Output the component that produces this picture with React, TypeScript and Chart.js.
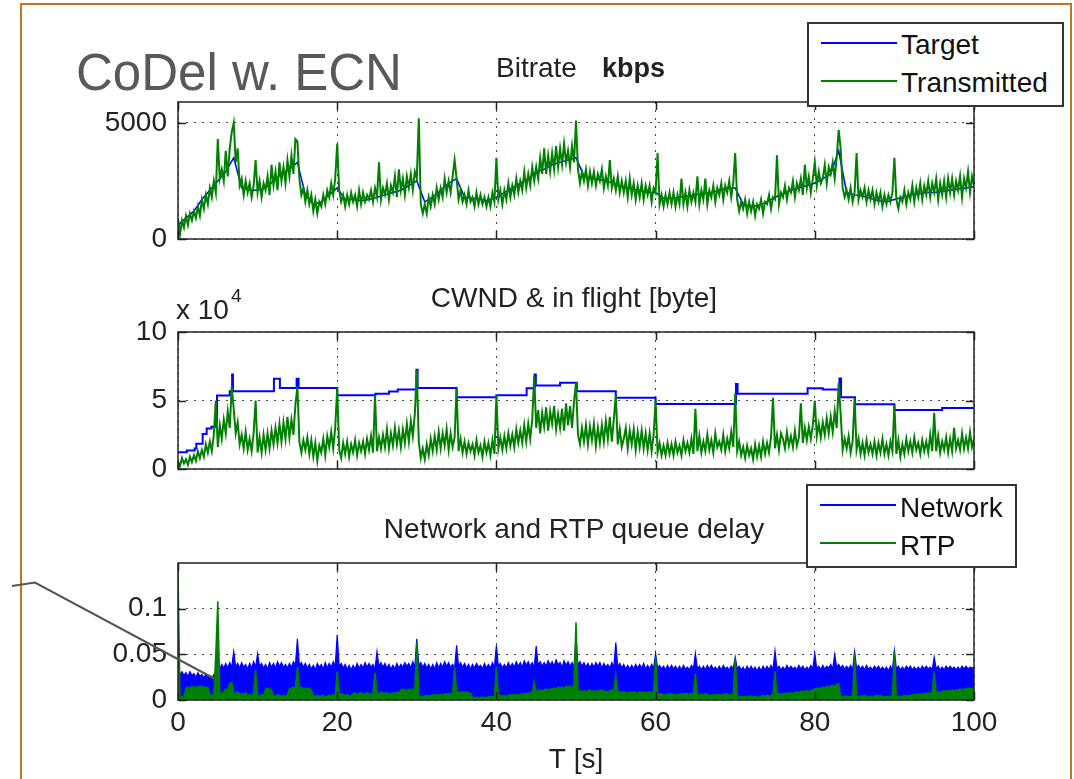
import React, { useEffect, useRef } from "react";
import { Chart, registerables } from "chart.js";
Chart.register(...registerables);

const FONT = "'Liberation Sans', Arial, Helvetica, sans-serif";
const STEP = 0.25; // sampling interval of the noisy traces [s]

const xTicks = [0, 20, 40, 60, 80, 100];
const bitrateTicks = [0, 5000];
const cwndTicks = [0, 5, 10];
const delayTicks = [0, 0.05, 0.1];

// Bitrate plot, kbps, target sampled every 1 s
const targetKbps = [
  600, 900, 1200, 1700, 2100, 2500, 2900, 3500, 2200, 2100,
  2100, 2200, 2500, 2800, 3000, 3300, 1900, 1500, 1600, 1900,
  2200, 1700, 1700, 1650, 1700, 1800, 1900, 2000, 2100, 2300,
  2500, 1600, 1800, 2100, 2400, 2600, 1800, 1750, 1700, 1650,
  1800, 2000, 2200, 2400, 2600, 2900, 3000, 3200, 3300, 3400,
  3500, 2700, 2600, 2550, 2500, 2300, 2250, 2150, 2100, 2000,
  2000, 1750, 1750, 1800, 1850, 1900, 1950, 2000, 2100, 2200,
  2200, 1500, 1400, 1450, 1600, 1800, 1950, 2100, 2200, 2300,
  2400, 2600, 2800, 3800, 2000, 1900, 1850, 1750, 1650, 1600,
  1700, 1800, 1900, 1950, 2000, 2000, 2050, 2100, 2150, 2200,
  2250,
];

// Transmitted, kbps, every 0.25 s
const transmittedKbps = [
  900, 200, 800, 500, 1000, 600, 1100, 800,
  1200, 900, 1400, 1000, 1700, 1300, 1900, 1500,
  2200, 1800, 2500, 2000, 4300, 2600, 3000, 2500,
  3800, 2700, 3900, 4600, 5000, 3300, 3900, 2300,
  2600, 1900, 2500, 2000, 2400, 1800, 2300, 3400,
  2000, 2500, 1800, 2400, 2100, 2700, 1900, 3200,
  2300, 2900, 2100, 3300, 2500, 3100, 2400, 3400,
  2700, 3600, 2800, 4300, 4200, 2600, 1900, 2200,
  1600, 2100, 1500, 1900, 1200, 1700, 1100, 1600,
  1400, 1900, 1500, 2100, 1800, 2400, 1900, 2600,
  4100, 2100, 1600, 1900, 1400, 1900, 1500, 2000,
  1600, 1900, 1400, 2100, 1500, 2000, 1600, 1900,
  1700, 2100, 1600, 2200, 1800, 3300, 1700, 2200,
  1900, 2400, 1700, 2300, 2000, 2700, 1800, 3000,
  2100, 2600, 1900, 2700, 2200, 2800, 2100, 2900,
  2600, 5200, 1500, 1100, 1500, 1100, 1800, 1400,
  1900, 1500, 2200, 1700, 2200, 1800, 2600, 2000,
  2500, 2000, 2700, 3400, 2600, 1700, 2100, 1600,
  1900, 1500, 2100, 1600, 1800, 1400, 2000, 1500,
  1900, 1500, 1800, 1400, 1800, 1400, 2000, 1600,
  3500, 1700, 2100, 1500, 2100, 1700, 2400, 1800,
  2300, 1900, 2600, 2000, 2500, 2100, 2900, 2200,
  2800, 2300, 3100, 2500, 3100, 2600, 3500, 2800,
  3900, 2800, 3600, 2900, 3700, 3000, 4000, 3100,
  3900, 3200, 4100, 3300, 3800, 3100, 4000, 3300,
  5100, 3000, 2400, 2900, 2500, 3000, 2300, 2900,
  2400, 2900, 2300, 2800, 2500, 3000, 2200, 2700,
  2300, 3400, 2200, 2600, 2100, 2700, 2000, 2500,
  2000, 2500, 1800, 2600, 1900, 2400, 1700, 2300,
  1800, 2400, 1700, 2300, 1900, 2300, 1600, 2200,
  2000, 3700, 1500, 1900, 1400, 1900, 1500, 2000,
  1500, 2000, 1400, 1900, 1500, 2600, 1500, 2000,
  1400, 2100, 1600, 2000, 1600, 2700, 1500, 2100,
  1700, 2600, 1500, 2100, 1800, 2300, 1600, 2200,
  1900, 2400, 1700, 2300, 2000, 2500, 1800, 2400,
  3700, 1700, 1200, 1600, 1300, 1700, 1100, 1600,
  1200, 1600, 1000, 1500, 1300, 1700, 1100, 1600,
  1500, 1900, 1300, 1800, 1700, 3600, 1500, 2000,
  1800, 2300, 1700, 2200, 2000, 2500, 1800, 2400,
  2100, 2600, 1900, 3200, 2200, 2700, 2000, 2600,
  3300, 2300, 2900, 2400, 2600, 3200, 2400, 3100,
  2800, 3300, 2600, 3500, 4700, 3900, 2200, 1800,
  2100, 1700, 2200, 1600, 2000, 3700, 1700, 2100,
  1800, 2200, 1600, 2100, 1700, 2100, 1500, 2000,
  1600, 2000, 1400, 1900, 1500, 1900, 1600, 2000,
  3500, 1700, 1300, 1800, 1600, 2100, 1500, 2000,
  1700, 2300, 1600, 2200, 1800, 2400, 1700, 2300,
  1900, 2500, 1800, 2400, 2000, 2600, 1700, 2400,
  1900, 2500, 1800, 2600, 2000, 2600, 1900, 2500,
  2100, 2700, 1800, 2600, 2200, 2900, 2000, 2700,
  2300,
];

// CWND, x 10^4 byte, step changes (time [s], value)
const cwndT = [
  0, 1.1, 2.1, 2.3, 3.1, 3.6, 4.2, 4.65, 4.9, 6.5,
  6.8, 6.9, 12.05, 12.8, 14.9, 15.15, 20, 24.8, 26.5, 27.6,
  29.95, 30.1, 35, 40, 43.8, 44.8, 44.95, 48, 50.1, 55,
  60, 70.1, 70.3, 79.1, 81, 83.1, 83.3, 85.05, 90, 96,
  100,
];
const cwndV = [
  1.22, 1.35, 1.5, 1.84, 2.56, 2.95, 3.08, 3.39, 5.36, 5.67,
  6.9, 5.67, 6.58, 5.92, 6.58, 5.92, 5.38, 5.5, 5.65, 5.8,
  7.25, 5.92, 5.24, 5.38, 5.9, 6.9, 6.1, 6.3, 5.67, 5.2,
  4.75, 6.2, 5.5, 5.9, 5.8, 6.6, 5.24, 4.73, 4.3, 4.45,
  4.45,
];

// In flight, x 10^4 byte, every 0.25 s
const inFlight = [
  0.5, 0.2, 0.8, 0.4, 0.7, 0.3, 0.9, 0.5,
  1.0, 0.6, 1.3, 0.8, 1.4, 0.9, 1.8, 1.2,
  2.0, 1.3, 2.5, 5.0, 1.6, 3.2, 2.2, 3.6,
  2.6, 4.2, 3.0, 6.0, 4.4, 2.6, 3.4, 1.8,
  2.5, 1.5, 2.7, 1.4, 2.2, 1.3, 2.6, 5.0,
  1.2, 2.3, 1.2, 2.5, 1.4, 2.6, 1.5, 2.8,
  1.8, 3.0, 1.9, 3.3, 2.0, 3.4, 2.2, 3.8,
  2.3, 3.6, 2.5, 4.7, 6.0, 2.0, 1.2, 2.1,
  1.4, 2.3, 1.1, 2.1, 0.9, 1.9, 0.6, 1.7,
  1.2, 2.2, 1.0, 2.4, 1.6, 2.7, 1.5, 3.0,
  5.9, 1.4, 0.8, 1.9, 1.1, 2.0, 0.9, 1.8,
  1.2, 2.1, 1.0, 1.9, 1.3, 2.0, 1.1, 2.2,
  1.4, 2.4, 1.2, 5.4, 1.3, 2.3, 1.5, 2.5,
  1.6, 2.9, 1.5, 2.6, 1.7, 3.0, 1.8, 2.8,
  1.6, 2.9, 1.9, 3.3, 2.0, 3.5, 2.4, 4.0,
  7.2, 2.0, 0.8, 1.5, 0.7, 1.8, 1.0, 2.2,
  1.3, 2.4, 1.4, 2.7, 1.5, 2.6, 1.7, 2.9,
  1.4, 2.6, 1.6, 2.3, 5.9, 1.3, 2.2, 1.2,
  2.0, 1.1, 1.9, 1.3, 1.8, 1.0, 2.1, 1.2,
  1.7, 0.9, 2.0, 1.2, 1.9, 1.0, 2.1, 1.1,
  5.4, 1.5, 2.3, 1.4, 2.4, 1.5, 2.6, 1.7,
  2.5, 1.6, 2.9, 1.9, 2.8, 1.9, 3.2, 2.0,
  3.3, 2.2, 3.6, 6.8, 3.0, 4.3, 2.6, 4.1,
  3.1, 4.5, 2.8, 4.2, 3.3, 4.6, 2.9, 4.0,
  3.0, 4.4, 2.8, 4.8, 3.2, 4.6, 3.0, 4.9,
  6.3, 2.5, 1.8, 3.0, 2.0, 3.2, 1.8, 3.1,
  2.1, 3.3, 1.7, 3.0, 1.9, 3.2, 2.0, 3.5,
  2.2, 3.8, 2.0, 3.6, 5.4, 1.8, 2.9, 1.6,
  2.2, 3.0, 1.5, 2.8, 1.8, 2.9, 1.4, 2.7,
  1.6, 2.8, 1.5, 2.6, 1.4, 2.6, 1.3, 2.5,
  5.0, 1.2, 1.9, 1.0, 1.7, 1.0, 1.9, 1.1,
  1.8, 1.0, 2.0, 1.2, 1.7, 1.0, 2.1, 1.3,
  1.9, 1.2, 2.2, 1.1, 4.4, 1.3, 2.4, 1.2,
  2.0, 1.3, 2.5, 1.4, 2.1, 1.2, 2.6, 1.6,
  2.0, 1.4, 2.5, 1.3, 2.2, 1.5, 2.7, 1.6,
  5.5, 1.3, 2.0, 1.0, 1.6, 0.8, 1.7, 1.0,
  1.5, 0.7, 1.8, 0.9, 1.7, 0.9, 2.0, 1.1,
  1.9, 1.2, 2.3, 5.2, 1.5, 2.5, 1.4, 2.6,
  2.2, 1.5, 2.7, 1.7, 2.4, 1.6, 2.8, 1.7,
  2.3, 4.8, 1.9, 3.0, 2.1, 3.1, 2.2, 3.2,
  5.0, 2.4, 3.3, 2.3, 3.4, 2.5, 3.7, 2.6,
  3.8, 2.7, 4.2, 3.0, 6.3, 4.0, 1.4, 2.2,
  1.5, 2.4, 1.2, 2.0, 5.2, 1.4, 2.2, 1.1,
  1.9, 1.0, 2.1, 1.2, 1.8, 1.1, 2.0, 1.0,
  1.9, 1.2, 2.2, 1.1, 1.8, 1.0, 2.0, 1.3,
  4.7, 1.1, 2.1, 0.9, 1.8, 1.1, 2.2, 1.3,
  2.0, 1.2, 2.3, 1.4, 1.9, 1.1, 2.1, 1.3,
  2.0, 1.2, 2.5, 1.3, 4.1, 1.3, 2.4, 1.2,
  2.0, 1.4, 2.3, 1.2, 2.2, 1.3, 3.0, 1.5,
  2.1, 1.4, 2.6, 1.5, 2.3, 1.5, 2.7, 1.6,
  2.2,
];

// Network queue delay [s], every 0.25 s
const networkDelay = [
  .033, .028, .031, .027, .030, .026, .031, .027,
  .029, .025, .030, .026, .028, .024, .029, .025,
  .027, .023, .028, .026, .050, .034, .039, .035,
  .040, .035, .041, .036, .053, .036, .040, .035,
  .041, .036, .039, .034, .040, .035, .042, .036,
  .051, .037, .040, .035, .039, .034, .041, .036,
  .040, .035, .042, .037, .041, .036, .039, .035,
  .040, .036, .042, .038, .067, .038, .041, .036,
  .040, .035, .039, .034, .038, .033, .040, .036,
  .039, .034, .041, .035, .040, .036, .042, .037,
  .071, .037, .040, .035, .039, .034, .038, .033,
  .038, .034, .040, .035, .039, .035, .041, .036,
  .040, .036, .039, .034, .053, .037, .041, .036,
  .040, .035, .039, .034, .038, .034, .040, .035,
  .039, .036, .041, .037, .040, .035, .042, .036,
  .067, .038, .041, .036, .040, .035, .039, .034,
  .039, .034, .041, .035, .040, .036, .042, .037,
  .041, .036, .039, .035, .060, .037, .041, .036,
  .040, .035, .039, .034, .039, .035, .040, .036,
  .038, .034, .040, .035, .039, .035, .041, .036,
  .060, .037, .040, .035, .039, .035, .041, .036,
  .040, .036, .042, .037, .041, .036, .043, .038,
  .042, .037, .041, .036, .059, .038, .042, .037,
  .041, .037, .043, .038, .042, .037, .044, .039,
  .041, .036, .043, .038, .042, .037, .041, .036,
  .069, .038, .042, .037, .041, .036, .040, .035,
  .040, .036, .041, .037, .041, .035, .040, .036,
  .039, .035, .041, .036, .063, .036, .040, .035,
  .039, .034, .038, .034, .038, .034, .039, .035,
  .039, .035, .040, .034, .038, .034, .039, .035,
  .051, .035, .038, .034, .037, .033, .038, .034,
  .038, .034, .037, .033, .037, .033, .038, .034,
  .036, .033, .038, .034, .051, .034, .037, .033,
  .037, .033, .038, .034, .038, .034, .036, .033,
  .037, .033, .038, .034, .036, .033, .037, .034,
  .047, .034, .037, .033, .036, .032, .037, .033,
  .037, .033, .036, .032, .036, .032, .037, .033,
  .037, .033, .038, .034, .054, .034, .037, .033,
  .036, .033, .038, .034, .037, .034, .036, .033,
  .038, .034, .037, .033, .036, .033, .038, .034,
  .051, .034, .037, .033, .038, .034, .037, .035,
  .039, .034, .050, .036, .039, .035, .038, .034,
  .037, .034, .038, .033, .053, .035, .038, .034,
  .037, .033, .038, .034, .036, .033, .037, .034,
  .037, .033, .036, .033, .036, .032, .037, .033,
  .054, .034, .037, .033, .036, .033, .037, .034,
  .037, .033, .036, .033, .036, .033, .037, .034,
  .037, .034, .036, .033, .047, .034, .037, .033,
  .036, .033, .037, .034, .037, .034, .036, .033,
  .036, .033, .037, .034, .037, .034, .036, .035,
  .036,
];

// RTP queue delay [s], every 0.25 s
const rtpDelay = [
  .140, .004, .003, .003, .013, .014, .013, .015,
  .014, .013, .015, .014, .015, .014, .013, .014,
  .006, .005, .006, .050, .108, .008, .007, .009,
  .012, .011, .018, .019, .008, .007, .009, .006,
  .007, .006, .008, .005, .006, .005, .007, .033,
  .005, .004, .006, .005, .012, .013, .012, .011,
  .005, .004, .006, .005, .004, .005, .004, .006,
  .012, .013, .014, .013, .036, .013, .014, .012,
  .013, .012, .013, .011, .005, .004, .005, .004,
  .004, .005, .003, .004, .005, .004, .006, .005,
  .031, .006, .007, .006, .005, .006, .004, .005,
  .007, .008, .006, .007, .008, .007, .006, .008,
  .007, .006, .008, .030, .008, .007, .009, .008,
  .007, .008, .006, .007, .008, .007, .009, .008,
  .011, .012, .011, .010, .012, .011, .012, .011,
  .063, .004, .003, .004, .004, .005, .004, .005,
  .005, .006, .005, .006, .006, .005, .007, .006,
  .007, .006, .007, .036, .008, .009, .008, .009,
  .008, .009, .008, .007, .003, .002, .003, .002,
  .003, .003, .002, .003, .003, .004, .003, .004,
  .036, .004, .005, .004, .005, .004, .005, .006,
  .005, .006, .006, .005, .006, .007, .006, .007,
  .007, .008, .007, .020, .009, .010, .011, .010,
  .011, .012, .011, .012, .012, .013, .012, .014,
  .013, .014, .013, .015, .014, .015, .014, .016,
  .085, .009, .010, .009, .010, .009, .010, .011,
  .009, .010, .009, .010, .010, .011, .010, .009,
  .009, .010, .011, .010, .027, .008, .009, .008,
  .009, .008, .007, .009, .008, .009, .008, .007,
  .009, .008, .009, .008, .008, .009, .008, .009,
  .047, .006, .007, .006, .006, .005, .007, .006,
  .007, .006, .005, .006, .006, .007, .006, .007,
  .007, .006, .007, .006, .029, .006, .005, .006,
  .006, .007, .006, .005, .005, .006, .005, .006,
  .006, .005, .006, .007, .006, .005, .006, .005,
  .046, .004, .003, .004, .003, .004, .003, .004,
  .004, .003, .004, .003, .003, .004, .005, .004,
  .005, .004, .005, .006, .031, .006, .007, .006,
  .007, .006, .008, .007, .008, .007, .008, .009,
  .008, .009, .010, .009, .010, .009, .010, .011,
  .012, .013, .012, .013, .014, .013, .015, .014,
  .015, .016, .015, .017, .018, .004, .003, .004,
  .004, .003, .004, .003, .051, .004, .003, .004,
  .004, .005, .004, .003, .004, .003, .004, .005,
  .004, .005, .004, .003, .004, .003, .004, .005,
  .054, .003, .004, .003, .004, .005, .004, .005,
  .005, .006, .005, .006, .006, .007, .006, .007,
  .007, .008, .007, .008, .030, .008, .009, .008,
  .009, .010, .009, .010, .010, .011, .010, .011,
  .011, .012, .011, .012, .012, .013, .012, .013,
  .013,
];

const BLUE = "#0000ff";
const GREEN = "#008000";
const INK = "#222222";

const sampled = (vals: number[], dt: number) => vals.map((v, i) => ({ x: i * dt, y: v }));
const paired = (ts: number[], vs: number[]) => ts.map((t, i) => ({ x: t, y: vs[i] }));

const boxPlugin = {
  id: "matlabBox",
  afterDraw(chart: any) {
    const { ctx, chartArea: a, scales } = chart;
    const xs = scales.x;
    const ys = scales.y;
    const L = 8;
    ctx.save();
    ctx.strokeStyle = INK;
    ctx.lineWidth = 1.5;
    ctx.beginPath();
    for (const t of xTicks) {
      const px = Math.round(xs.getPixelForValue(t)) + 0.5;
      ctx.moveTo(px, a.bottom);
      ctx.lineTo(px, a.bottom - L);
      ctx.moveTo(px, a.top);
      ctx.lineTo(px, a.top + L);
    }
    for (const tk of ys.ticks) {
      const py = Math.round(ys.getPixelForValue(tk.value)) + 0.5;
      ctx.moveTo(a.left, py);
      ctx.lineTo(a.left + L, py);
      ctx.moveTo(a.right, py);
      ctx.lineTo(a.right - L, py);
    }
    ctx.stroke();
    ctx.strokeRect(a.left, a.top, a.right - a.left, a.bottom - a.top);
    ctx.restore();
  },
};

function makeOptions(p: {
  top: number; bottom: number; yMax: number; yTicks: number[];
  showX: boolean; xHeight: number; xTitle?: string;
}) {
  const tickFont = { family: FONT, size: 28 };
  return {
    responsive: false,
    animation: false as const,
    events: [],
    layout: { padding: { left: 0, right: 100, top: p.top, bottom: p.bottom } },
    plugins: { legend: { display: false }, tooltip: { enabled: false } },
    elements: { point: { radius: 0 }, line: { tension: 0 } },
    scales: {
      x: {
        type: "linear" as const,
        min: 0,
        max: 100,
        afterBuildTicks: (s: any) => { s.ticks = xTicks.map((v) => ({ value: v })); },
        afterFit: (s: any) => { s.height = p.xHeight; },
        grid: { color: "#444", lineWidth: 1, drawTicks: false },
        border: { display: false, dash: [2, 6] },
        ticks: {
          display: p.showX, padding: 6, color: INK, font: tickFont,
          maxRotation: 0, autoSkip: false, callback: (v: any) => String(v),
        },
        title: p.xTitle
          ? { display: true, text: p.xTitle, color: INK, font: tickFont, padding: { top: 0, bottom: 2 } }
          : { display: false },
      },
      y: {
        type: "linear" as const,
        min: 0,
        max: p.yMax,
        afterBuildTicks: (s: any) => { s.ticks = p.yTicks.map((v) => ({ value: v })); },
        afterFit: (s: any) => { s.width = 178; },
        grid: { color: "#444", lineWidth: 1, drawTicks: false },
        border: { display: false, dash: [2, 6] },
        ticks: { padding: 11, color: INK, font: tickFont, callback: (v: any) => String(v) },
      },
    },
  };
}

function Txt(props: { x: number; y: number; size: number; text: string; bold?: boolean; color?: string; center?: boolean }) {
  const { x, y, size, text, bold, color, center } = props;
  const w = 800;
  return (
    <div
      style={{
        position: "absolute",
        left: center ? x - w / 2 : x,
        top: y - 0.8465 * size,
        width: center ? w : undefined,
        textAlign: center ? "center" : "left",
        fontSize: size,
        lineHeight: `${size}px`,
        fontWeight: bold ? "bold" : "normal",
        color: color || INK,
        whiteSpace: "nowrap",
      }}
    >
      {text}
    </div>
  );
}

function Legend(props: { left: number; top: number; width: number; height: number; items: { label: string; color: string; lineY: number; baseY: number }[] }) {
  const { left, top, width, height, items } = props;
  return (
    <>
      <div style={{ position: "absolute", left, top, width, height, boxSizing: "border-box", border: "2px solid #333", background: "#fff" }} />
      {items.map((it) => (
        <React.Fragment key={it.label}>
          <div style={{ position: "absolute", left: left + 14, top: it.lineY - 1, width: 76, height: 0, borderTop: `2px solid ${it.color}` }} />
          <Txt x={left + 94} y={it.baseY} size={28} text={it.label} color="#111" />
        </React.Fragment>
      ))}
    </>
  );
}

export default function App() {
  const c1 = useRef<HTMLCanvasElement>(null);
  const c2 = useRef<HTMLCanvasElement>(null);
  const c3 = useRef<HTMLCanvasElement>(null);

  useEffect(() => {
    const charts: Chart[] = [];
    charts.push(
      new Chart(c1.current!, {
        type: "line",
        data: {
          datasets: [
            { label: "Transmitted", data: sampled(transmittedKbps, STEP), borderColor: GREEN, borderWidth: 2, pointRadius: 0, order: 0 },
            { label: "Target", data: sampled(targetKbps, 1), borderColor: BLUE, borderWidth: 1.5, pointRadius: 0, order: 1 },
          ],
        },
        options: makeOptions({ top: 102, bottom: 540, yMax: 5900, yTicks: bitrateTicks, showX: false, xHeight: 0 }) as any,
        plugins: [boxPlugin],
      })
    );
    charts.push(
      new Chart(c2.current!, {
        type: "line",
        data: {
          datasets: [
            { label: "in flight", data: sampled(inFlight, STEP), borderColor: GREEN, borderWidth: 2, pointRadius: 0, order: 0 },
            { label: "CWND", data: paired(cwndT, cwndV), borderColor: BLUE, borderWidth: 2, pointRadius: 0, stepped: true, order: 1 },
          ],
        },
        options: makeOptions({ top: 332, bottom: 310, yMax: 10, yTicks: cwndTicks, showX: false, xHeight: 0 }) as any,
        plugins: [boxPlugin],
      })
    );
    charts.push(
      new Chart(c3.current!, {
        type: "line",
        data: {
          datasets: [
            { label: "RTP", data: sampled(rtpDelay, STEP), borderColor: GREEN, backgroundColor: GREEN, fill: "origin", borderWidth: 1.5, pointRadius: 0, order: 0 },
            { label: "Network", data: sampled(networkDelay, STEP), borderColor: BLUE, backgroundColor: BLUE, fill: "origin", borderWidth: 1.2, pointRadius: 0, order: 1 },
          ],
        },
        options: makeOptions({ top: 563, bottom: 0, yMax: 0.15, yTicks: delayTicks, showX: true, xHeight: 79, xTitle: "T [s]" }) as any,
        plugins: [boxPlugin],
      })
    );
    return () => charts.forEach((c) => c.destroy());
  }, []);

  const canvasStyle: React.CSSProperties = { position: "absolute", left: 0, top: 0 };

  return (
    <div style={{ position: "absolute", left: 0, top: 0, width: 1074, height: 779, overflow: "hidden", background: "#fff", fontFamily: FONT }}>
      <canvas ref={c1} width={1074} height={779} style={canvasStyle} />
      <canvas ref={c2} width={1074} height={779} style={canvasStyle} />
      <canvas ref={c3} width={1074} height={779} style={canvasStyle} />

      <Txt x={76} y={90} size={51} text="CoDel w. ECN" color="#595959" />
      <Txt x={496} y={78} size={28} text="Bitrate" />
      <Txt x={602} y={78} size={27} text="kbps" bold />
      <Txt x={574} y={308} size={28} text="CWND & in flight [byte]" center />
      <Txt x={574} y={539} size={28} text="Network and RTP queue delay" center />
      <Txt x={176} y={320} size={28} text="x 10" />
      <Txt x={231} y={302} size={19} text="4" />

      <Legend
        left={807} top={22} width={257} height={85}
        items={[
          { label: "Target", color: BLUE, lineY: 43, baseY: 55 },
          { label: "Transmitted", color: GREEN, lineY: 81, baseY: 93 },
        ]}
      />
      <Legend
        left={806} top={484} width={211} height={84}
        items={[
          { label: "Network", color: BLUE, lineY: 505, baseY: 518 },
          { label: "RTP", color: GREEN, lineY: 543, baseY: 556 },
        ]}
      />

      <div style={{ position: "absolute", left: 20, top: 3, width: 1052, height: 800, boxSizing: "border-box", border: "2px solid #C0761A", borderBottom: "none" }} />
      <svg width={1074} height={779} style={{ position: "absolute", left: 0, top: 0, pointerEvents: "none" }}>
        <polyline points="12,586 35,582.5 215,679" fill="none" stroke="#555" strokeWidth={2} />
      </svg>
    </div>
  );
}
